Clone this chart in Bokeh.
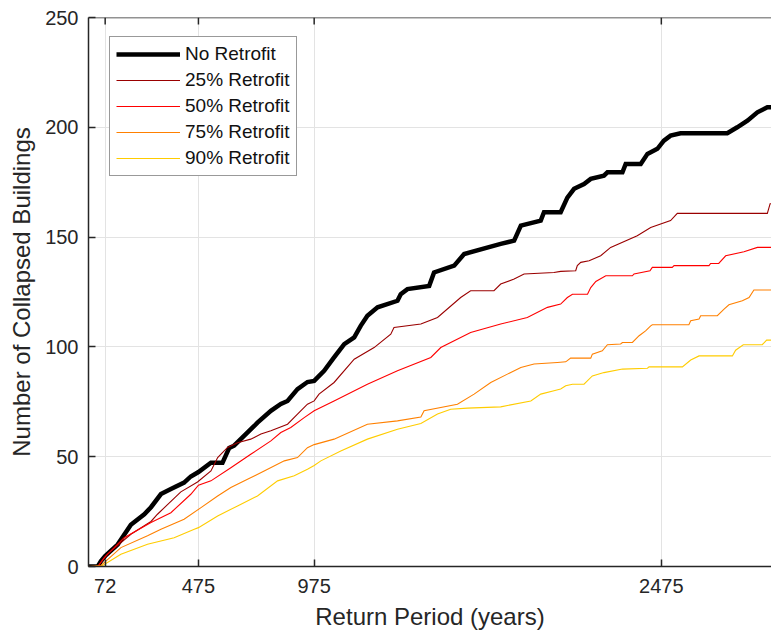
from bokeh.plotting import figure
from bokeh.models import Range1d, FixedTicker, Legend, LegendItem, Span
from bokeh.embed import file_html
from bokeh.resources import INLINE

# ---------------- data ----------------
x_ticks = [72, 475, 975, 2475]
y_ticks = [0, 50, 100, 150, 200, 250]

series_names = ["No Retrofit", "25% Retrofit", "50% Retrofit", "75% Retrofit", "90% Retrofit"]

no_x = [0, 40, 54, 72, 126, 183, 241, 270, 313, 356, 413, 442, 475, 529, 579, 608, 629, 672,
        716, 730, 788, 831, 860, 903, 946, 975, 1018, 1061, 1105, 1148, 1176, 1205, 1249, 1335,
        1349, 1378, 1472, 1493, 1580, 1623, 1781, 1839, 1868, 1954, 1968, 2040, 2069, 2098, 2141,
        2170, 2227, 2242, 2307, 2321, 2386, 2415, 2458, 2486, 2515, 2558, 2760, 2803, 2847, 2890,
        2933, 2952]
no_y = [0, 0, 2.5, 4.8, 10, 19, 23.8, 27, 33, 35.3, 38.2, 41, 43, 47.3, 47.3, 54, 55, 59.5,
        64, 65.5, 70.9, 74, 75.4, 80.8, 84, 84.5, 89.1, 95.2, 101.3, 104.3, 109.6, 114.2, 118, 121,
        124, 126.3, 127.8, 133.9, 137, 142.3, 146.9, 148.4, 155.2, 157.5, 161.3, 161.3, 168, 172, 174.2,
        176.5, 178, 179.5, 179.5, 183.3, 183.3, 187.9, 190.2, 193.9, 196.2, 197.3, 197.3, 200, 203, 206.8,
        209.1, 209.1]

r25_x = [0, 40, 82, 183, 270, 298, 399, 471, 529, 558, 601, 644, 701, 745, 788, 860, 903, 946,
         975, 996, 1061, 1148, 1234, 1306, 1320, 1436, 1508, 1608, 1651, 1752, 1781, 1839, 1882,
         2011, 2040, 2105, 2112, 2127, 2163, 2213, 2256, 2371, 2429, 2515, 2544, 2933, 2945, 2952]
r25_y = [0, 0, 5.6, 14.7, 20.5, 23.8, 34, 38.5, 43.5, 49.6, 54.2, 56.4, 58, 60.3, 61.8, 64.8, 69.4, 73.9,
         75.4, 78.5, 83.8, 94.4, 99.7, 105.8, 108.8, 110.4, 113.4, 122.5, 125.6, 125.6, 128.6, 130.9, 133.2,
         133.9, 134.4, 134.7, 137, 138.5, 139.2, 141.5, 145.3, 150.6, 154.4, 157.5, 160.8, 160.8, 165.2, 165.2]

r50_x = [0, 40, 68, 154, 270, 356, 442, 475, 529, 615, 701, 788, 831, 874, 932, 975, 1061, 1205,
         1335, 1479, 1522, 1651, 1781, 1896, 1983, 2040, 2069, 2091, 2156, 2170, 2192, 2235, 2350,
         2357, 2426, 2436, 2522, 2530, 2681, 2688, 2723, 2753, 2832, 2890, 2952]
r50_y = [0, 0, 4, 13.1, 20, 24.5, 32.9, 37, 39, 45, 51.1, 57.2, 61, 63.3, 67.8, 70.9, 75.4, 83,
         89.1, 95.2, 99.7, 106.6, 110.4, 113.4, 118, 119.5, 122.5, 124, 124, 127, 129.8, 132.4, 132.4,
         133.2, 134.7, 136.2, 136.2, 137, 137, 138, 138, 141.5, 143.3, 145.3, 145.3]

r75_x = [0, 54, 140, 255, 313, 413, 486, 558, 615, 687, 759, 846, 903, 946, 975, 1061, 1205, 1335,
         1436, 1450, 1594, 1666, 1738, 1810, 1868, 1925, 2026, 2062, 2083, 2170, 2177, 2220, 2242,
         2299, 2307, 2350, 2379, 2407, 2429, 2436, 2594, 2602, 2638, 2645, 2717, 2746, 2767, 2825,
         2854, 2875, 2952]
r75_y = [0, 0.5, 8.6, 14, 17, 21.5, 26.8, 32.1, 36, 39.7, 43.5, 48.1, 49.6, 54.1, 55.5, 58, 64.8, 66.3,
         68.1, 70.9, 73.9, 78.5, 83.8, 87.6, 90.6, 92.2, 92.9, 93.2, 94.9, 94.9, 96.7, 98.2, 101,
         101.3, 102, 102, 105.1, 107.3, 109.6, 110.1, 110.1, 111.9, 112.7, 114.2, 114.2, 117.2, 119.2, 121,
         122.5, 125.9, 125.9]

r90_x = [0, 54, 140, 255, 370, 457, 475, 558, 644, 730, 817, 889, 946, 975, 1004, 1090, 1205, 1335,
         1436, 1508, 1565, 1637, 1781, 1911, 1954, 2011, 2040, 2062, 2091, 2141, 2177, 2227, 2307,
         2415, 2422, 2566, 2602, 2638, 2782, 2796, 2829, 2911, 2930, 2952]
r90_y = [0, 0, 5.6, 10.1, 13.1, 17, 17.7, 23, 27.6, 32.1, 39, 41.3, 44.3, 46, 48.1, 52.6, 58, 62.5,
         65.1, 69.4, 71.6, 72.1, 72.7, 75.4, 78.5, 80, 80.8, 82.3, 83, 83, 86.8, 88.3, 89.9,
         90.3, 90.9, 90.9, 94, 95.9, 95.9, 98.5, 101, 101, 103.1, 103.1]

colors = ["#000000", "#9A0000", "#FF0000", "#FF8000", "#FFCC00"]
widths = [4.5, 1.1, 1.1, 1.1, 1.1]

# ---------------- figure ----------------
FONT = "Liberation Sans"
TXT = "#262626"
WIDTH, HEIGHT = 771, 634
B_LEFT, B_TOP, B_BOTTOM = 88, 17, 68
TICK_PX = 7

p = figure(width=WIDTH, height=HEIGHT, output_backend="svg", toolbar_location=None,
           x_range=Range1d(0, 2951), y_range=Range1d(0, 250),
           min_border_left=B_LEFT, min_border_right=0, min_border_top=B_TOP, min_border_bottom=B_BOTTOM)
p.outline_line_color = None
p.background_fill_color = "white"

p.xaxis.ticker = FixedTicker(ticks=x_ticks)
p.yaxis.ticker = FixedTicker(ticks=y_ticks)
p.xaxis.axis_label = "Return Period (years)"
p.yaxis.axis_label = "Number of Collapsed Buildings"

for ax in p.axis:
    ax.axis_line_color = TXT
    ax.axis_line_width = 1.5
    ax.major_tick_line_color = TXT
    ax.major_tick_line_width = 1.5
    ax.major_tick_in = TICK_PX
    ax.major_tick_out = 0
    ax.minor_tick_line_color = None
    ax.major_label_text_font = FONT
    ax.major_label_text_font_size = "20px"
    ax.major_label_text_color = TXT
    ax.axis_label_text_font = FONT
    ax.axis_label_text_font_size = "24px"
    ax.axis_label_text_font_style = "normal"
    ax.axis_label_text_color = TXT

p.xaxis.major_label_standoff = 12
p.xaxis.axis_label_standoff = 7
p.yaxis.major_label_standoff = 10
p.yaxis.axis_label_standoff = 7

p.xgrid.grid_line_color = "#E3E3E3"
p.ygrid.grid_line_color = "#E3E3E3"
p.xgrid.grid_line_width = 1
p.ygrid.grid_line_width = 1

# top edge of the box with inward ticks
y_top = y_ticks[-1]
frame_h = HEIGHT - B_TOP - B_BOTTOM
tick_len = TICK_PX * (y_top - y_ticks[0]) / frame_h
p.add_layout(Span(location=y_top, dimension="width", line_color=TXT, line_width=1.5))
p.segment(x0=x_ticks, y0=[y_top] * len(x_ticks), x1=x_ticks, y1=[y_top - tick_len] * len(x_ticks),
          line_color=TXT, line_width=1.5)

xs = [no_x, r25_x, r50_x, r75_x, r90_x]
ys = [no_y, r25_y, r50_y, r75_y, r90_y]
renderers = []
for x, y, c, w in zip(xs, ys, colors, widths):
    r = p.line(x, y, line_color=c, line_width=w, line_join="miter")
    renderers.append(r)

legend = Legend(items=[LegendItem(label=n, renderers=[r]) for n, r in zip(series_names, renderers)],
                location=(21, 390), margin=0, padding=6, spacing=4,
                glyph_width=64, glyph_height=22, label_height=22, label_standoff=5,
                label_text_font=FONT, label_text_font_size="19px", label_text_color="#111111",
                border_line_color="#333333", border_line_width=1,
                background_fill_color="white", background_fill_alpha=1)
p.add_layout(legend)

open("out.html", "w").write(file_html(p, INLINE))
